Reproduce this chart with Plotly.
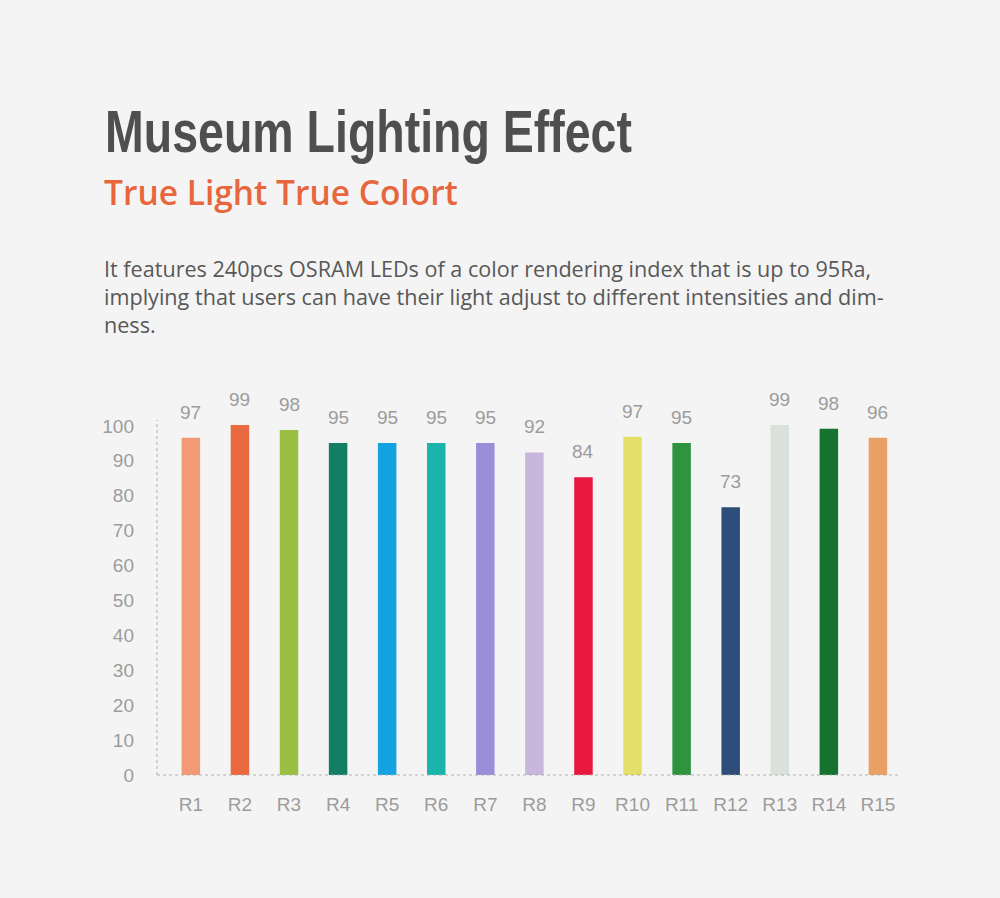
import plotly.graph_objects as go

# ---- data ----
categories = ["R1", "R2", "R3", "R4", "R5", "R6", "R7", "R8", "R9", "R10", "R11", "R12", "R13", "R14", "R15"]
label_values = [97, 99, 98, 95, 95, 95, 95, 92, 84, 97, 95, 73, 99, 98, 96]
# bar heights as drawn in the picture (they differ slightly from the printed labels)
bar_heights = [96.6, 100.3, 98.8, 95.1, 95.1, 95.1, 95.1, 92.4, 85.3, 96.9, 95.1, 76.7, 100.3, 99.2, 96.6]
bar_colors = ["#f29a76", "#ea6a3f", "#9bbf45", "#147e64", "#14a2e0", "#1bb4ac", "#9b8ed8",
              "#c8b6dc", "#e8183e", "#e5de68", "#2e9440", "#2f4d79", "#dae0da", "#16732f", "#e8a065"]
y_ticks = [0, 10, 20, 30, 40, 50, 60, 70, 80, 90, 100]

title = "Museum Lighting Effect"
subtitle = "True Light True Colort"
body = ("It features 240pcs OSRAM LEDs of a color rendering index that is up to 95Ra,<br>"
        "implying that users can have their light adjust to different intensities and dim-<br>"
        "ness.")

# ---- layout constants (pixels) ----
W, H = 1000, 898
L, R, T, B = 157, 100, 420, 122.5
PW, PH = W - L - R, H - T - B
BG = "#f4f4f4"


def px(x):
    return (x - L) / PW


def py(y):
    return (H - B - y) / PH


fig = go.Figure()
fig.add_trace(go.Bar(
    x=categories, y=bar_heights, marker=dict(color=bar_colors, line=dict(width=0)),
    hoverinfo="skip", showlegend=False,
))

annotations = []
for c, h, v in zip(categories, bar_heights, label_values):
    annotations.append(dict(
        x=c, y=h, xref="x", yref="y", text=str(v), showarrow=False,
        yanchor="bottom", yshift=13,
        font=dict(family="Liberation Sans, Arial, sans-serif", size=19, color="#9c9c9c"),
    ))

annotations.append(dict(
    x=px(103), y=py(96), xref="paper", yref="paper", xanchor="left", yanchor="top",
    text="<b>" + title + "</b>", showarrow=False,
    font=dict(family="Liberation Sans, Arial, sans-serif", size=60, color="#4f4f4f"),
))
annotations.append(dict(
    x=px(102), y=py(167), xref="paper", yref="paper", xanchor="left", yanchor="top",
    text=subtitle, showarrow=False,
    font=dict(family="Open Sans, Liberation Sans, sans-serif", size=33.5, color="#e8663d", weight=600),
))
annotations.append(dict(
    x=px(102), y=py(252), xref="paper", yref="paper", xanchor="left", yanchor="top", align="left",
    text=body, showarrow=False,
    font=dict(family="Open Sans, Liberation Sans, sans-serif", size=21.6, color="#585858"),
))

shapes = [
    dict(type="line", xref="paper", yref="paper", x0=0, x1=0, y0=0, y1=1,
         line=dict(color="#b0b0b0", width=1, dash="3px,3px")),
    dict(type="line", xref="paper", yref="paper", x0=0, x1=1, y0=0, y1=0,
         line=dict(color="#b0b0b0", width=1, dash="3px,3px")),
]

fig.update_layout(
    width=W, height=H,
    margin=dict(l=L, r=R, t=T, b=B, pad=0),
    paper_bgcolor=BG, plot_bgcolor=BG,
    bargap=0.623,
    annotations=annotations,
    shapes=shapes,
    xaxis=dict(
        type="category", range=[-0.69, 14.45], showgrid=False, zeroline=False, showline=False,
        ticks="", ticklabelstandoff=16,
        tickfont=dict(family="Liberation Sans, Arial, sans-serif", size=19, color="#9c9c9c"),
        fixedrange=True,
    ),
    yaxis=dict(
        range=[0, 101.7], tickvals=y_ticks, showgrid=False, zeroline=False, showline=False,
        ticks="", ticklabelstandoff=22,
        tickfont=dict(family="Liberation Sans, Arial, sans-serif", size=19, color="#9c9c9c"),
        fixedrange=True,
    ),
)

# condense the headline horizontally (the original uses a condensed heavy face)
post_js = """
(function(){
  var gd = document.getElementById('{plot_id}');
  function squeeze(){
    var texts = gd.querySelectorAll('.annotation-text');
    texts.forEach(function(t){
      if (t.textContent === %s) {
        t.style.transformBox = 'fill-box';
        t.style.transformOrigin = '0 0';
        t.style.transform = 'scaleX(0.775)';
      }
    });
  }
  squeeze();
  if (gd.on) { gd.on('plotly_afterplot', squeeze); }
})();
""" % ('"' + title + '"')

fig.write_html("out.html", config={"displayModeBar": False}, post_script=post_js)
